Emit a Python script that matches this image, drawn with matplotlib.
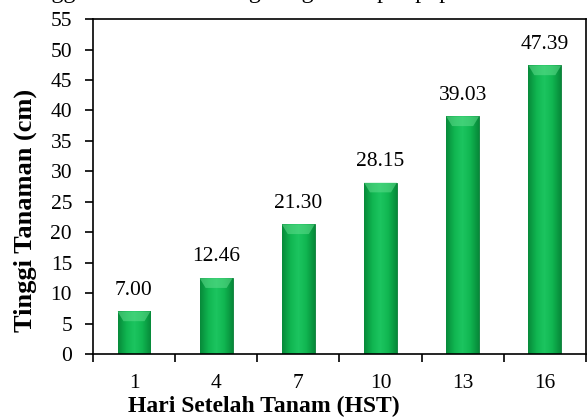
import matplotlib
matplotlib.use("Agg")
import matplotlib.pyplot as plt
import numpy as np
from matplotlib.colors import LinearSegmentedColormap

plt.rcParams['font.family'] = ['Liberation Serif', 'DejaVu Serif']

days = ["1", "4", "7", "10", "13", "16"]
heights = [7.00, 12.46, 21.30, 28.15, 39.03, 47.39]
title = "Tinggi Tanaman Bawang dengan Ampas pupuk"

fig = plt.figure(figsize=(5.88, 4.2), dpi=100)
ax = fig.add_axes([0.158, 0.157, 0.8384, 0.7976])

x = np.arange(len(days))
width = 0.4
ax.set_xlim(-0.5, len(days) - 0.5)
ax.set_ylim(0, 55)

# bevelled green bars: horizontal gradient clipped to each bar
cmap = LinearSegmentedColormap.from_list(
    "bar", ["#078a3a", "#10b550", "#1cc560", "#10b550", "#078a3a"])
grad = np.linspace(0, 1, 64).reshape(1, -1)
bars = ax.bar(x, heights, width=width, color="#10b550",
              edgecolor="#0a7a36", linewidth=0.6, zorder=2)
for b in bars:
    x0, w, h = b.get_x(), b.get_width(), b.get_height()
    im = ax.imshow(grad, cmap=cmap, aspect="auto", zorder=2.5,
                   extent=[x0, x0 + w, 0, h])
    im.set_clip_path(b)
    # lighter top bevel
    ax.fill([x0, x0 + w, x0 + w * 0.82, x0 + w * 0.18],
            [h, h, h - 1.6, h - 1.6], color="#5fdc8c", alpha=0.55,
            lw=0, zorder=3)

for xi, v in zip(x, heights):
    ax.annotate(f"{v:.2f}", (xi, v), xytext=(0, 8.5), textcoords="offset points",
                ha="center", va="bottom", fontsize=15.5)

ax.set_yticks(np.arange(0, 56, 5))
ax.tick_params(axis="y", direction="out", length=6, width=1.2,
               labelsize=15.5, pad=9)
ax.set_xticks(np.arange(-0.5, len(days), 1.0))
ax.set_xticklabels([])
ax.set_xticks(x, minor=True)
ax.set_xticklabels(days, minor=True)
ax.tick_params(axis="x", which="major", direction="out", length=6, width=1.2)
ax.tick_params(axis="x", which="minor", length=0, labelsize=15.5, pad=14)

for s in ax.spines.values():
    s.set_linewidth(1.2)

ax.set_xlabel("Hari Setelah Tanam (HST)", fontsize=17, fontweight="bold")
ax.xaxis.set_label_coords(0.347, -0.125)
ax.set_ylabel("Tinggi Tanaman (cm)", fontsize=19, fontweight="bold")
ax.yaxis.set_label_coords(-0.1136, 0.43)

fig.text(19 / 588, 1.0 + 2 / 420, title, fontsize=17.3, ha="left",
         va="baseline")

fig.savefig("out.png", dpi=100)
